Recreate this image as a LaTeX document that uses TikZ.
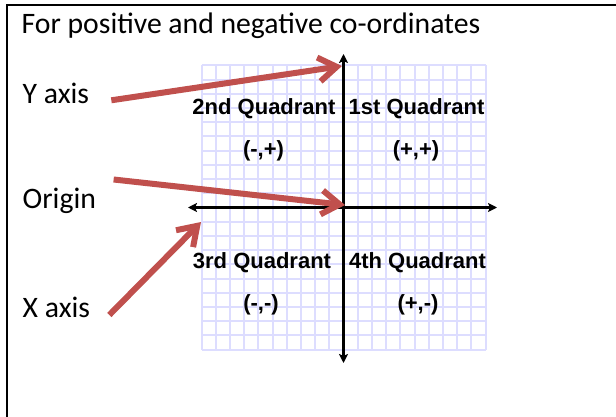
\documentclass[tikz,border=0pt]{standalone}
\usepackage{fontspec}
\setmainfont{Carlito}
\newfontfamily\quadfont{Liberation Sans}
\usetikzlibrary{arrows.meta}

\definecolor{gridblue}{RGB}{221,221,255}
\definecolor{callred}{RGB}{192,80,77}

\begin{document}
\begin{tikzpicture}[
  x=1pt, y=-1pt,
  lbl/.style={inner sep=0pt, anchor=base west,
    font=\fontsize{29.7pt}{34pt}\selectfont},
  quad/.style={inner sep=0pt, anchor=base,
    font=\fontsize{22pt}{26pt}\selectfont\quadfont\bfseries},
  gridline/.style={draw=gridblue, line width=2pt},
  axis/.style={line width=2.6pt,
    {Stealth[length=9pt,width=9pt,inset=2pt]}-{Stealth[length=9pt,width=9pt,inset=2pt]}},
  pointer/.style={draw=callred, line width=6pt,
    -{Straight Barb[length=18pt,width=24pt]},
    preaction={draw=black!35, opacity=0.35,
      transform canvas={shift={(1.5pt,-2pt)}}}},
]
\useasboundingbox (0,0) rectangle (616,417);

% frame (top and left edge of the cell)
\draw[line width=2pt] (7,417) -- (7,4.7) -- (616,4.7);

% grid paper, 20x20 cells round the origin
\foreach \i in {-10,...,10} {
  \draw[gridline] (343.5+\i*14.2, 65.5) -- (343.5+\i*14.2, 349.5);
  \draw[gridline] (201.5, 207.5+\i*14.2) -- (485.5, 207.5+\i*14.2);
}

% axes
\coordinate (xleft) at (188,207.5);
\coordinate (xright) at (497,207.5);
\coordinate (ytop) at (343.5,54);
\coordinate (ybot) at (343.5,363);
\draw[axis] (xleft) -- (xright);
\draw[axis] (ybot) -- (ytop);

% quadrants
\node[quad] (q2) at (264,115) {2nd Quadrant};
\node[quad] (q1) at (416.5,115) {1st Quadrant};
\node[quad] (s2) at (263.5,156.4) {(-,+)};
\node[quad] (s1) at (416,156.4) {(+,+)};
\node[quad] (q3) at (262,268) {3rd Quadrant};
\node[quad] (q4) at (417.5,268) {4th Quadrant};
\node[quad] (s3) at (261,310.7) {(-,-)};
\node[quad] (s4) at (418,310.7) {(+,-)};

% title and labels
\node[lbl] (title) at (21.5,33.3) {For positive and negative co-ordinates};
\node[lbl] (ylbl) at (22.5,103.3) {Y axis};
\node[lbl] (olbl) at (22.5,208.5) {Origin};
\node[lbl] (xlbl) at (22.5,317.3) {X axis};

% pointers
\coordinate (ytip) at (342,66);
\coordinate (otip) at (345,205);
\coordinate (xtip) at (201,222);
\draw[pointer] ([xshift=22pt,yshift=3pt]ylbl.base east) -- (ytip);
\draw[pointer] ([xshift=17.5pt,yshift=29pt]olbl.base east) -- (otip);
\draw[pointer] ([xshift=19pt,yshift=2.3pt]xlbl.base east) -- (xtip);

\end{tikzpicture}
\end{document}
